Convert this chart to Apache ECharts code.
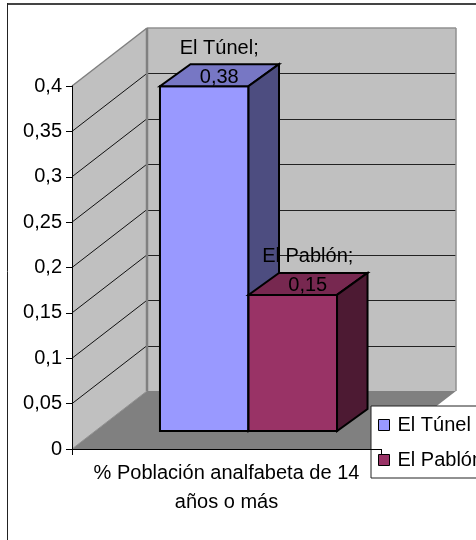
<!DOCTYPE html>
<html>
<head>
<meta charset="utf-8">
<style>html,body{margin:0;padding:0;background:#fff;overflow:hidden}#c{width:476px;height:540px}</style>
<script src="https://cdn.jsdelivr.net/npm/echarts@6/dist/echarts.min.js"></script>
</head>
<body>
<div id="c"></div>
<script>
const categories = ['% Población analfabeta de 14\naños o más'];
const seriesNames = ['El Túnel', 'El Pablón'];
const tunelValues = [0.38];
const pablonValues = [0.15];
const yTicks = [0.05, 0.1, 0.15, 0.2, 0.25, 0.3, 0.35, 0.4];

const FONT = '"Liberation Sans", Arial, sans-serif';
const FS = 20;
const WALL = {dx: 75, dy: -58};
const PLANE = {dx: 23, dy: -18};
const BAR = {dx: 30.5, dy: -22, share: 0.2865};
const comma = v => String(v).replace('.', ',');

function poly(points, fill, stroke, lw) {
  return {type: 'polygon', shape: {points}, style: {fill, stroke: stroke || 'none', lineWidth: lw || 0}};
}
function seg(a, b, stroke, lw) {
  return {type: 'line', shape: {x1: a[0], y1: a[1], x2: b[0], y2: b[1]}, style: {stroke, lineWidth: lw}};
}
function shift(p, o) { return [p[0] + o.dx, p[1] + o.dy]; }

function renderWalls(params, api) {
  const c = api.coord([0, 0]);
  const w = api.size([1, 0])[0];
  const l = c[0] - w / 2, r = c[0] + w / 2;
  const A = [l, c[1]], B = [r, c[1]];
  const At = [l, api.coord([0, 0.4])[1]];
  const children = [
    poly([A, At, shift(At, WALL), shift(A, WALL)], '#c0c0c0'),
    poly([shift(A, WALL), shift(At, WALL), shift([r, At[1]], WALL), shift(B, WALL)], '#c0c0c0'),
    poly([A, B, shift(B, WALL), shift(A, WALL)], '#808080')
  ];
  yTicks.slice(0, -1).forEach(t => {
    const y = api.coord([0, t])[1];
    const back = shift([l, y], WALL);
    children.push(seg([l, y], back, '#111', 1));
    children.push(seg([Math.round(back[0]), Math.round(back[1]) + .5], [Math.round(r + WALL.dx), Math.round(back[1]) + .5], '#222', 1));
  });
  children.push(seg(At, shift(At, WALL), '#808080', 1.5));
  children.push(seg(shift(At, WALL), shift([r, At[1]], WALL), '#909090', 1.5));
  children.push(seg(shift([r, At[1]], WALL), shift(B, WALL), '#909090', 1.5));
  children.push(seg(shift(At, WALL), shift(A, WALL), '#808080', 2.5));
  children.push(seg(A, shift(A, WALL), '#909090', 1));
  return {type: 'group', children};
}

function barRenderer(index, front, top, side) {
  return function (params, api) {
    const val = api.value(1);
    const c = api.coord([0, val]);
    const z = api.coord([0, 0]);
    const bw = api.size([1, 0])[0] * BAR.share;
    const x0 = c[0] - 1 + (index - 1) * bw;
    const a = shift([x0, z[1]], PLANE), b = shift([x0 + bw, z[1]], PLANE);
    const d = shift([x0, c[1]], PLANE), e = shift([x0 + bw, c[1]], PLANE);
    const lab = (text, dy) => ({
      type: 'text',
      style: {text, x: x0 + bw / 2 + PLANE.dx + 15, y: d[1] + dy, align: 'center', verticalAlign: 'middle',
        font: FS + 'px ' + FONT, fill: '#000'}
    });
    return {type: 'group', children: [
      poly([a, b, e, d], front, '#000', 2),
      poly([d, e, shift(e, BAR), shift(d, BAR)], top, '#000', 2),
      poly([b, e, shift(e, BAR), shift(b, BAR)], side, '#000', 2),
      lab(seriesNames[index] + ';', -38),
      lab(comma(val), -9)
    ]};
  };
}

const chart = echarts.init(document.getElementById('c'), null, {renderer: 'canvas'});
chart.setOption({
  animation: false,
  backgroundColor: '#fff',
  textStyle: {fontFamily: FONT},
  graphic: [
    {type: 'line', z: 0, shape: {x1: 7.5, y1: 4, x2: 476, y2: 4}, style: {stroke: '#444', lineWidth: 2}},
    {type: 'line', z: 0, shape: {x1: 7.5, y1: 3, x2: 7.5, y2: 540}, style: {stroke: '#222', lineWidth: 1}}
  ],
  grid: {left: 72, right: 95, top: 86, bottom: 91},
  xAxis: {
    type: 'category', data: categories, z: 5,
    axisLine: {lineStyle: {color: '#000', width: 1}},
    axisTick: {show: true, length: 6, lineStyle: {color: '#000'}},
    axisLabel: {color: '#000', fontSize: FS, fontFamily: FONT, lineHeight: 29, margin: 10, interval: 0}
  },
  yAxis: {
    type: 'value', min: 0, max: 0.4, interval: 0.05, z: 5,
    axisLine: {show: true, lineStyle: {color: '#000', width: 1}},
    axisTick: {show: true, length: 6, lineStyle: {color: '#000'}},
    splitLine: {show: false},
    axisLabel: {color: '#000', fontSize: FS, fontFamily: FONT, margin: 10, formatter: comma}
  },
  legend: {
    orient: 'vertical', left: 371, top: 406,
    data: seriesNames, icon: 'rect', itemWidth: 11, itemHeight: 11, itemGap: 15,
    padding: [9, 30, 8, 7],
    backgroundColor: '#fff', borderColor: '#222', borderWidth: 1,
    selectedMode: false,
    textStyle: {color: '#000', fontSize: FS, fontFamily: FONT, padding: [0, 0, 0, 3]},
    itemStyle: {borderColor: '#000', borderWidth: 1}
  },
  series: [
    {type: 'custom', name: 'walls', silent: true, z: 1, data: [[0, 0]], encode: {x: 0, y: 1}, renderItem: renderWalls},
    {type: 'custom', name: seriesNames[0], z: 2, data: tunelValues.map((v, i) => [i, v]), encode: {x: 0, y: 1},
      itemStyle: {color: '#9999ff'}, renderItem: barRenderer(0, '#9999ff', '#7777c4', '#4d4d80')},
    {type: 'custom', name: seriesNames[1], z: 3, data: pablonValues.map((v, i) => [i, v]), encode: {x: 0, y: 1},
      itemStyle: {color: '#993366'}, renderItem: barRenderer(1, '#993366', '#772850', '#4d1a33')}
  ]
});
</script>
</body>
</html>
